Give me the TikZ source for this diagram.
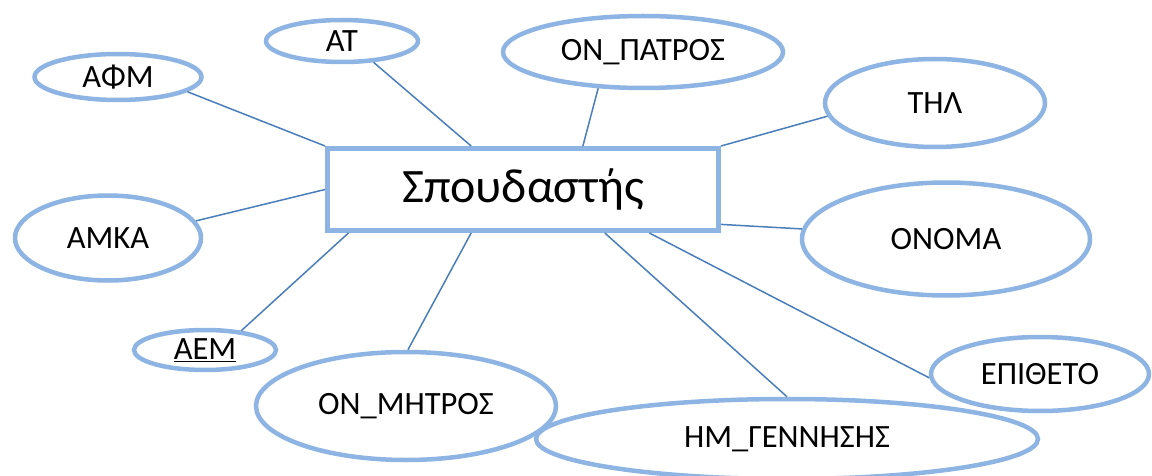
\documentclass[tikz,border=0pt]{standalone}
\usepackage{fontspec}
\setmainfont{Carlito}
\usetikzlibrary{shapes.geometric}
\definecolor{attrblue}{RGB}{141,180,226}
\definecolor{linkblue}{RGB}{74,126,187}

\begin{document}
\begin{tikzpicture}[x=1pt, y=-1pt,
    attr/.style={shape=ellipse, draw=attrblue, line width=4.5pt, fill=white, inner sep=0pt, font=\fontsize{32.5}{39}\selectfont},
    entity/.style={shape=rectangle, draw=attrblue, line width=5pt, fill=white, minimum width=391pt, minimum height=82pt, font=\fontsize{48}{58}\selectfont},
    link/.style={draw=linkblue, line width=1.5pt}]
    \useasboundingbox (0,0) rectangle (1152,476);
    \node[entity] (ent) at (523,189.5) {Σπουδαστής};
    \node[attr, minimum width=167pt, minimum height=46pt] (afm) at (118,77) {ΑΦΜ};
    \node[attr, minimum width=152pt, minimum height=42pt] (at) at (342,41) {ΑΤ};
    \node[attr, minimum width=280pt, minimum height=72pt] (onp) at (643,52) {ΟΝ\_ΠΑΤΡΟΣ};
    \node[attr, minimum width=220pt, minimum height=88pt] (til) at (935,103) {ΤΗΛ};
    \node[attr, minimum width=186pt, minimum height=85pt] (amka) at (108,238) {ΑΜΚΑ};
    \node[attr, minimum width=288pt, minimum height=113pt] (onoma) at (946,239) {ΟΝΟΜΑ};
    \node[attr, minimum width=142pt, minimum height=40pt] (aem) at (205,350) {\underline{ΑΕΜ}};
    \node[attr, minimum width=300pt, minimum height=108pt] (onm) at (406,406) {ΟΝ\_ΜΗΤΡΟΣ};
    \node[attr, minimum width=502pt, minimum height=80pt] (hm) at (787,439) {ΗΜ\_ΓΕΝΝΗΣΗΣ};
    \node[attr, minimum width=218pt, minimum height=74pt] (epi) at (1040,374) {ΕΠΙΘΕΤΟ};
    \draw[link] (afm.-12) -- (ent.north west);
    \draw[link] (at.-34) -- (ent.140);
    \draw[link] (onp.-141) -- (ent.36);
    \draw[link] (til.187) -- (ent.north east);
    \draw[link] (amka.11) -- (ent.west);
    \draw[link] (onoma.176) -- (ent.-10);
    \draw[link] (aem.28) -- (ent.194);
    \draw[link] (onm.88) -- (ent.-140);
    \draw[link] (hm.90) -- (ent.-28);
    \draw[link] (epi.182) -- (ent.-19);
\end{tikzpicture}
\end{document}
